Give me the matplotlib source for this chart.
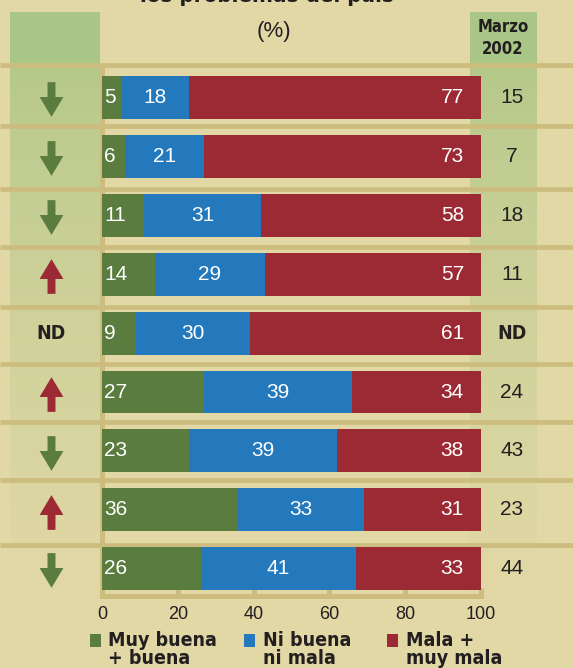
import numpy as np
import matplotlib
matplotlib.use('Agg')
import matplotlib.pyplot as plt
from matplotlib.patches import Rectangle
from matplotlib.path import Path
from matplotlib.transforms import blended_transform_factory


# datos (%)
green = [5, 6, 11, 14, 9, 27, 23, 36, 26]
blue = [18, 21, 31, 29, 30, 39, 39, 33, 41]
red = [77, 73, 58, 57, 61, 34, 38, 31, 33]
marzo = ['15', '7', '18', '11', 'ND', '24', '43', '23', '44']
trend = ['down', 'down', 'down', 'up', 'ND', 'up', 'down', 'up', 'down']
ticks = [0, 20, 40, 60, 80, 100]
legend_labels = [('Muy buena', '+ buena'), ('Ni buena', 'ni mala'), ('Mala +', 'muy mala')]

# colores
BG = '#e2d8a6'
SEP = '#ccbd7e'
HEAD = '#a9c686'
C_GREEN = '#5a7d3f'
C_BLUE = '#2479bc'
C_RED = '#9b2a34'
DARK = '#231f20'

NUM = ['Liberation Sans', 'DejaVu Sans']
# texto estrecho en negrita
BOLD = dict(family=['DejaVu Sans'], fontstretch='condensed', fontweight='bold')

W, H = 573, 668
fig = plt.figure(figsize=(W / 100, H / 100), dpi=100, facecolor=BG)

# fondo en coordenadas de pixel
bg = fig.add_axes([0, 0, 1, 1], zorder=0)
bg.axis('off')

# columnas verdes (cabecera + degradado)
top_c = np.array([178, 200, 136]) / 255
bot_c = np.array([226, 216, 166]) / 255
t = np.linspace(0, 1, 200) ** 0.7
grad = (top_c[None, :] * (1 - t[:, None]) + bot_c[None, :] * t[:, None])[:, None, :]
for x0, x1 in [(10, 100), (470, 537)]:
    bg.add_patch(Rectangle((x0, 12), x1 - x0, 51, color=HEAD, lw=0))
    bg.imshow(grad, extent=[x0, x1, 600, 63], aspect='auto', interpolation='bilinear')
bg.set_xlim(0, W)
bg.set_ylim(H, 0)

# lineas separadoras
for yy in [65, 126, 189, 247, 307, 364, 422, 480, 545]:
    bg.plot([0, W], [yy, yy], color=SEP, lw=3.4, solid_capstyle='butt')

# titulo (cortado arriba) y (%)
bg.text(267, 2, 'los problemas del país', ha='center', va='baseline',
        fontsize=16, color=DARK, **BOLD)
bg.text(274, 31, '(%)', ha='center', va='center', fontsize=16, family=NUM, color=DARK)
bg.text(503, 27, 'Marzo', ha='center', va='center', fontsize=12, color=DARK, **BOLD)
bg.text(503, 49, '2002', ha='center', va='center', fontsize=12, color=DARK, **BOLD)

# leyenda
for (x_sq, x_tx), col, (l1, l2) in zip([(90, 108), (244, 263), (387, 406)],
                                      [C_GREEN, C_BLUE, C_RED], legend_labels):
    bg.add_patch(Rectangle((x_sq, 634), 11, 13, color=col, lw=0))
    bg.text(x_tx, 646, l1, ha='left', va='baseline', fontsize=14, color=DARK, **BOLD)
    bg.text(x_tx, 664, l2, ha='left', va='baseline', fontsize=14, color=DARK, **BOLD)

# ejes de las barras
X0, X1 = 102, 481
Y_TOP, Y_BOT = 67, 596
ROW0, ROW_STEP = 97.5, 58.9
ax = fig.add_axes([X0 / W, 1 - Y_BOT / H, (X1 - X0) / W, (Y_BOT - Y_TOP) / H], zorder=1)
ax.patch.set_alpha(0)

y = np.arange(len(green))
g = np.array(green)
b = np.array(blue)
r = np.array(red)
ax.barh(y, g, height=0.73, color=C_GREEN, zorder=3)
ax.barh(y, b, left=g, height=0.73, color=C_BLUE, zorder=3)
ax.barh(y, r, left=g + b, height=0.73, color=C_RED, zorder=3)

ax.set_xlim(0, 100)
ax.set_ylim((Y_BOT - ROW0) / ROW_STEP, (Y_TOP - ROW0) / ROW_STEP)

for i in range(len(green)):
    ax.text(0.6, i, str(green[i]), ha='left', va='center', color='white',
            fontsize=15, family=NUM, zorder=4)
    ax.text(green[i] + blue[i] / 2, i, str(blue[i]), ha='center', va='center',
            color='white', fontsize=15, family=NUM, zorder=4)
    ax.text(95.5, i, str(red[i]), ha='right', va='center', color='white',
            fontsize=15, family=NUM, zorder=4)

# columna derecha (Marzo 2002) y flechas
tr = blended_transform_factory(ax.transAxes, ax.transData)
x_right = (512 - X0) / (X1 - X0)
x_left = (51 - X0) / (X1 - X0)
for i, v in enumerate(marzo):
    if v == 'ND':
        ax.text(x_right, i, v, transform=tr, ha='center', va='center', fontsize=14,
                color=DARK, clip_on=False, **BOLD)
    else:
        ax.text(x_right, i, v, transform=tr, ha='center', va='center', fontsize=15,
                family=NUM, color=DARK, clip_on=False)

down_arrow = Path([(-4, 17.5), (4, 17.5), (4, 2.5), (12, 2.5), (0, -17.5),
                   (-12, 2.5), (-4, 2.5), (-4, 17.5)])
up_arrow = Path([(-4, -17.5), (4, -17.5), (4, -2.5), (12, -2.5), (0, 17.5),
                 (-12, -2.5), (-4, -2.5), (-4, -17.5)])
for i, tdir in enumerate(trend):
    if tdir == 'ND':
        ax.text(x_left, i, 'ND', transform=tr, ha='center', va='center', fontsize=14,
                color=DARK, clip_on=False, **BOLD)
    elif tdir == 'down':
        ax.plot([x_left], [i + 0.03], transform=tr, marker=down_arrow, markersize=25,
                color=C_GREEN, mew=0, clip_on=False)
    else:
        ax.plot([x_left], [i + 0.03], transform=tr, marker=up_arrow, markersize=25,
                color=C_RED, mew=0, clip_on=False)

# ejes
for s in ['top', 'right']:
    ax.spines[s].set_visible(False)
for s in ['left', 'bottom']:
    ax.spines[s].set_color(SEP)
    ax.spines[s].set_linewidth(3.6)
    ax.spines[s].set_capstyle('projecting')
ax.set_yticks([])
ax.set_xticks(ticks)
ax.set_xticklabels([str(v) for v in ticks], family=NUM, fontsize=13, color=DARK)
ax.tick_params(axis='x', direction='in', length=6, width=3.6, color=SEP, pad=7.5)

fig.savefig('out.png', dpi=100, facecolor=BG)
